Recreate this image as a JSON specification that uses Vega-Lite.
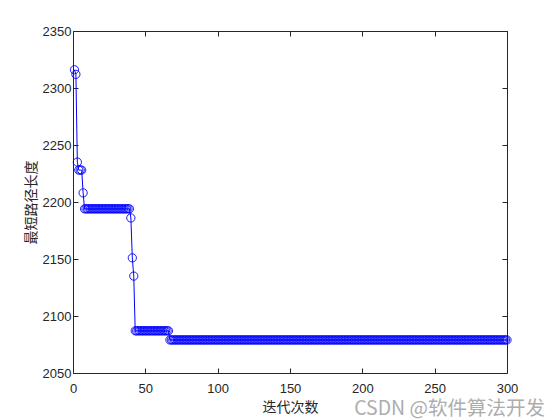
{
  "$schema": "https://vega.github.io/schema/vega-lite/v6.json",
  "width": 434,
  "height": 342,
  "autosize": {"type": "none"},
  "padding": {"left": 73, "top": 31, "right": 53, "bottom": 47},
  "background": "white",
  "title": {
    "text": "CSDN @软件算法开发",
    "orient": "bottom",
    "anchor": "end",
    "frame": "group",
    "dx": 38,
    "offset": -14,
    "font": "Noto Sans CJK SC",
    "fontSize": 19.5,
    "fontWeight": "normal",
    "color": "#adadad"
  },
  "config": {
    "view": {"stroke": null},
    "axis": {
      "grid": false,
      "domainColor": "#262626",
      "domainWidth": 1,
      "tickColor": "#262626",
      "tickSize": -5,
      "labelFont": "Liberation Sans",
      "labelFontSize": 13,
      "labelColor": "#262626",
      "titleFont": "Noto Sans CJK SC",
      "titleFontSize": 14,
      "titleFontWeight": "normal",
      "titleColor": "#262626"
    }
  },
  "data": {"values": [
    {"x":1,"y":2316},{"x":2,"y":2312},{"x":3,"y":2235},{"x":4,"y":2228},{"x":5,"y":2228},{"x":6,"y":2228},{"x":7,"y":2208},{"x":8,"y":2194},{"x":9,"y":2194},{"x":10,"y":2194},
    {"x":11,"y":2194},{"x":12,"y":2194},{"x":13,"y":2194},{"x":14,"y":2194},{"x":15,"y":2194},{"x":16,"y":2194},{"x":17,"y":2194},{"x":18,"y":2194},{"x":19,"y":2194},{"x":20,"y":2194},
    {"x":21,"y":2194},{"x":22,"y":2194},{"x":23,"y":2194},{"x":24,"y":2194},{"x":25,"y":2194},{"x":26,"y":2194},{"x":27,"y":2194},{"x":28,"y":2194},{"x":29,"y":2194},{"x":30,"y":2194},
    {"x":31,"y":2194},{"x":32,"y":2194},{"x":33,"y":2194},{"x":34,"y":2194},{"x":35,"y":2194},{"x":36,"y":2194},{"x":37,"y":2194},{"x":38,"y":2194},{"x":39,"y":2194},{"x":40,"y":2186},
    {"x":41,"y":2151},{"x":42,"y":2135},{"x":43,"y":2087},{"x":44,"y":2087},{"x":45,"y":2087},{"x":46,"y":2087},{"x":47,"y":2087},{"x":48,"y":2087},{"x":49,"y":2087},{"x":50,"y":2087},
    {"x":51,"y":2087},{"x":52,"y":2087},{"x":53,"y":2087},{"x":54,"y":2087},{"x":55,"y":2087},{"x":56,"y":2087},{"x":57,"y":2087},{"x":58,"y":2087},{"x":59,"y":2087},{"x":60,"y":2087},
    {"x":61,"y":2087},{"x":62,"y":2087},{"x":63,"y":2087},{"x":64,"y":2087},{"x":65,"y":2087},{"x":66,"y":2087},{"x":67,"y":2079},{"x":68,"y":2079},{"x":69,"y":2079},{"x":70,"y":2079},
    {"x":71,"y":2079},{"x":72,"y":2079},{"x":73,"y":2079},{"x":74,"y":2079},{"x":75,"y":2079},{"x":76,"y":2079},{"x":77,"y":2079},{"x":78,"y":2079},{"x":79,"y":2079},{"x":80,"y":2079},
    {"x":81,"y":2079},{"x":82,"y":2079},{"x":83,"y":2079},{"x":84,"y":2079},{"x":85,"y":2079},{"x":86,"y":2079},{"x":87,"y":2079},{"x":88,"y":2079},{"x":89,"y":2079},{"x":90,"y":2079},
    {"x":91,"y":2079},{"x":92,"y":2079},{"x":93,"y":2079},{"x":94,"y":2079},{"x":95,"y":2079},{"x":96,"y":2079},{"x":97,"y":2079},{"x":98,"y":2079},{"x":99,"y":2079},{"x":100,"y":2079},
    {"x":101,"y":2079},{"x":102,"y":2079},{"x":103,"y":2079},{"x":104,"y":2079},{"x":105,"y":2079},{"x":106,"y":2079},{"x":107,"y":2079},{"x":108,"y":2079},{"x":109,"y":2079},{"x":110,"y":2079},
    {"x":111,"y":2079},{"x":112,"y":2079},{"x":113,"y":2079},{"x":114,"y":2079},{"x":115,"y":2079},{"x":116,"y":2079},{"x":117,"y":2079},{"x":118,"y":2079},{"x":119,"y":2079},{"x":120,"y":2079},
    {"x":121,"y":2079},{"x":122,"y":2079},{"x":123,"y":2079},{"x":124,"y":2079},{"x":125,"y":2079},{"x":126,"y":2079},{"x":127,"y":2079},{"x":128,"y":2079},{"x":129,"y":2079},{"x":130,"y":2079},
    {"x":131,"y":2079},{"x":132,"y":2079},{"x":133,"y":2079},{"x":134,"y":2079},{"x":135,"y":2079},{"x":136,"y":2079},{"x":137,"y":2079},{"x":138,"y":2079},{"x":139,"y":2079},{"x":140,"y":2079},
    {"x":141,"y":2079},{"x":142,"y":2079},{"x":143,"y":2079},{"x":144,"y":2079},{"x":145,"y":2079},{"x":146,"y":2079},{"x":147,"y":2079},{"x":148,"y":2079},{"x":149,"y":2079},{"x":150,"y":2079},
    {"x":151,"y":2079},{"x":152,"y":2079},{"x":153,"y":2079},{"x":154,"y":2079},{"x":155,"y":2079},{"x":156,"y":2079},{"x":157,"y":2079},{"x":158,"y":2079},{"x":159,"y":2079},{"x":160,"y":2079},
    {"x":161,"y":2079},{"x":162,"y":2079},{"x":163,"y":2079},{"x":164,"y":2079},{"x":165,"y":2079},{"x":166,"y":2079},{"x":167,"y":2079},{"x":168,"y":2079},{"x":169,"y":2079},{"x":170,"y":2079},
    {"x":171,"y":2079},{"x":172,"y":2079},{"x":173,"y":2079},{"x":174,"y":2079},{"x":175,"y":2079},{"x":176,"y":2079},{"x":177,"y":2079},{"x":178,"y":2079},{"x":179,"y":2079},{"x":180,"y":2079},
    {"x":181,"y":2079},{"x":182,"y":2079},{"x":183,"y":2079},{"x":184,"y":2079},{"x":185,"y":2079},{"x":186,"y":2079},{"x":187,"y":2079},{"x":188,"y":2079},{"x":189,"y":2079},{"x":190,"y":2079},
    {"x":191,"y":2079},{"x":192,"y":2079},{"x":193,"y":2079},{"x":194,"y":2079},{"x":195,"y":2079},{"x":196,"y":2079},{"x":197,"y":2079},{"x":198,"y":2079},{"x":199,"y":2079},{"x":200,"y":2079},
    {"x":201,"y":2079},{"x":202,"y":2079},{"x":203,"y":2079},{"x":204,"y":2079},{"x":205,"y":2079},{"x":206,"y":2079},{"x":207,"y":2079},{"x":208,"y":2079},{"x":209,"y":2079},{"x":210,"y":2079},
    {"x":211,"y":2079},{"x":212,"y":2079},{"x":213,"y":2079},{"x":214,"y":2079},{"x":215,"y":2079},{"x":216,"y":2079},{"x":217,"y":2079},{"x":218,"y":2079},{"x":219,"y":2079},{"x":220,"y":2079},
    {"x":221,"y":2079},{"x":222,"y":2079},{"x":223,"y":2079},{"x":224,"y":2079},{"x":225,"y":2079},{"x":226,"y":2079},{"x":227,"y":2079},{"x":228,"y":2079},{"x":229,"y":2079},{"x":230,"y":2079},
    {"x":231,"y":2079},{"x":232,"y":2079},{"x":233,"y":2079},{"x":234,"y":2079},{"x":235,"y":2079},{"x":236,"y":2079},{"x":237,"y":2079},{"x":238,"y":2079},{"x":239,"y":2079},{"x":240,"y":2079},
    {"x":241,"y":2079},{"x":242,"y":2079},{"x":243,"y":2079},{"x":244,"y":2079},{"x":245,"y":2079},{"x":246,"y":2079},{"x":247,"y":2079},{"x":248,"y":2079},{"x":249,"y":2079},{"x":250,"y":2079},
    {"x":251,"y":2079},{"x":252,"y":2079},{"x":253,"y":2079},{"x":254,"y":2079},{"x":255,"y":2079},{"x":256,"y":2079},{"x":257,"y":2079},{"x":258,"y":2079},{"x":259,"y":2079},{"x":260,"y":2079},
    {"x":261,"y":2079},{"x":262,"y":2079},{"x":263,"y":2079},{"x":264,"y":2079},{"x":265,"y":2079},{"x":266,"y":2079},{"x":267,"y":2079},{"x":268,"y":2079},{"x":269,"y":2079},{"x":270,"y":2079},
    {"x":271,"y":2079},{"x":272,"y":2079},{"x":273,"y":2079},{"x":274,"y":2079},{"x":275,"y":2079},{"x":276,"y":2079},{"x":277,"y":2079},{"x":278,"y":2079},{"x":279,"y":2079},{"x":280,"y":2079},
    {"x":281,"y":2079},{"x":282,"y":2079},{"x":283,"y":2079},{"x":284,"y":2079},{"x":285,"y":2079},{"x":286,"y":2079},{"x":287,"y":2079},{"x":288,"y":2079},{"x":289,"y":2079},{"x":290,"y":2079},
    {"x":291,"y":2079},{"x":292,"y":2079},{"x":293,"y":2079},{"x":294,"y":2079},{"x":295,"y":2079},{"x":296,"y":2079},{"x":297,"y":2079},{"x":298,"y":2079},{"x":299,"y":2079},{"x":300,"y":2079}
  ]},
  "layer": [
    {
      "mark": {"type": "line", "color": "#0000ff", "strokeWidth": 1},
      "encoding": {
        "x": {"field": "x", "type": "quantitative",
              "scale": {"domain": [0, 300], "nice": false, "zero": false},
              "axis": {"orient": "bottom", "values": [0, 50, 100, 150, 200, 250, 300], "format": "d", "title": "迭代次数", "labelPadding": 14, "titlePadding": 5, "labelFlush": false}},
        "y": {"field": "y", "type": "quantitative",
              "scale": {"domain": [2050, 2350], "nice": false, "zero": false},
              "axis": {"orient": "left", "values": [2050, 2100, 2150, 2200, 2250, 2300, 2350], "format": "d", "title": "最短路径长度", "labelPadding": 7, "titlePadding": 4, "labelFlush": false}}
      }
    },
    {
      "mark": {"type": "point", "shape": "circle", "filled": false, "color": "#0000ff", "size": 68, "strokeWidth": 0.9, "opacity": 1},
      "encoding": {
        "x": {"field": "x", "type": "quantitative",
              "axis": {"orient": "top", "values": [0, 50, 100, 150, 200, 250, 300], "labels": false, "title": null}},
        "y": {"field": "y", "type": "quantitative",
              "axis": {"orient": "right", "values": [2050, 2100, 2150, 2200, 2250, 2300, 2350], "labels": false, "title": null}}
      }
    }
  ],
  "resolve": {"axis": {"x": "independent", "y": "independent"}}
}
